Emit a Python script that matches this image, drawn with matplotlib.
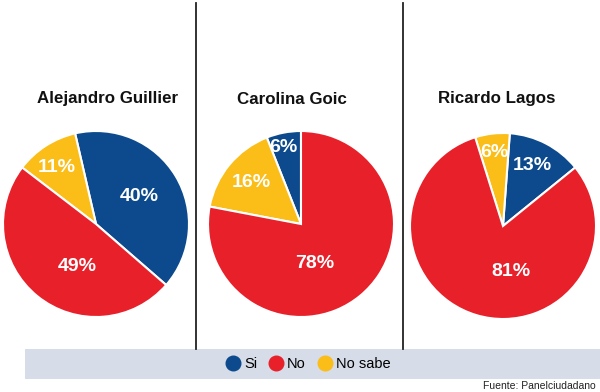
import numpy as np
import matplotlib
matplotlib.use("Agg")
import matplotlib.pyplot as plt
from matplotlib.patches import Rectangle
from matplotlib.lines import Line2D

# data
candidates = ["Alejandro Guillier", "Carolina Goic", "Ricardo Lagos"]
si = [40, 6, 13]
no = [49, 78, 81]
no_sabe = [11, 16, 6]
legend_labels = ["Si", "No", "No sabe"]
source = "Fuente: Panelciudadano"

blue = "#0c4a8d"
red = "#e8202a"
yellow = "#fbbd17"
band = "#d6dce8"

W, H = 600, 392
fig = plt.figure(figsize=(6, 3.92), dpi=100)
fig.patch.set_facecolor("white")

title_font = ["Liberation Sans", "DejaVu Sans"]
pct_font = ["Liberation Sans", "DejaVu Sans"]

# layout in pixels
centers = [(96, 224), (301, 224), (503, 226)]
R = 93
start_angles = [-41, 90, 39]
title_x = [108, 292, 497]
# label placement per pie: (radius fraction, angle shift) for Si, No sabe, No
label_pos = [
    [(0.55, 1), (0.74, 2), (0.50, 16)],
    [(0.84, 2), (0.70, 0), (0.45, -20)],
    [(0.72, 2), (0.80, 0), (0.50, 27)],
]

for i, name in enumerate(candidates):
    cx, cy = centers[i]
    ax = fig.add_axes([(cx - R) / W, (H - cy - R) / H, 2 * R / W, 2 * R / H])
    vals = [si[i], no_sabe[i], no[i]]
    wedges, _ = ax.pie(vals, colors=[blue, yellow, red], startangle=start_angles[i],
                       counterclock=True, radius=1,
                       wedgeprops=dict(edgecolor="white", linewidth=1.5))
    ax.set_xlim(-1, 1)
    ax.set_ylim(-1, 1)
    ax.set_aspect("auto")
    ax.axis("off")
    for w, v, (rf, sh) in zip(wedges, vals, label_pos[i]):
        mid = np.deg2rad((w.theta1 + w.theta2) / 2 + sh)
        ax.text(rf * np.cos(mid), rf * np.sin(mid), f"{v}%", color="white",
                fontsize=14, fontweight="bold", family=pct_font,
                ha="center", va="center")
    fig.text(title_x[i] / W, 1 - 99 / H, name, fontsize=12.2, fontweight="bold",
             family=title_font, ha="center", va="center", color="#111111")

# separators
for x in [196, 403]:
    fig.add_artist(Line2D([x / W, x / W], [1 - 3 / H, 1 - 349 / H],
                          color="#222222", lw=1.3))

# legend band
fig.add_artist(Rectangle((25 / W, 1 - 379 / H), (W - 25) / W, 30 / H,
                         transform=fig.transFigure, facecolor=band,
                         edgecolor="none"))
handles = [Line2D([], [], marker="o", ls="none", markersize=10.5,
                  markerfacecolor=c, markeredgecolor=c) for c in [blue, red, yellow]]
fig.legend(handles, legend_labels, loc="center", bbox_to_anchor=(308 / W, 1 - 364 / H),
           ncol=3, frameon=False, handletextpad=0.25, columnspacing=0.8,
           handlelength=1.0, prop=dict(family=title_font, size=10.5))

fig.text(596 / W, 1 - 386 / H, source, fontsize=7.5, family=title_font,
         ha="right", va="center", color="#222222")

fig.savefig("out.png", dpi=100)
